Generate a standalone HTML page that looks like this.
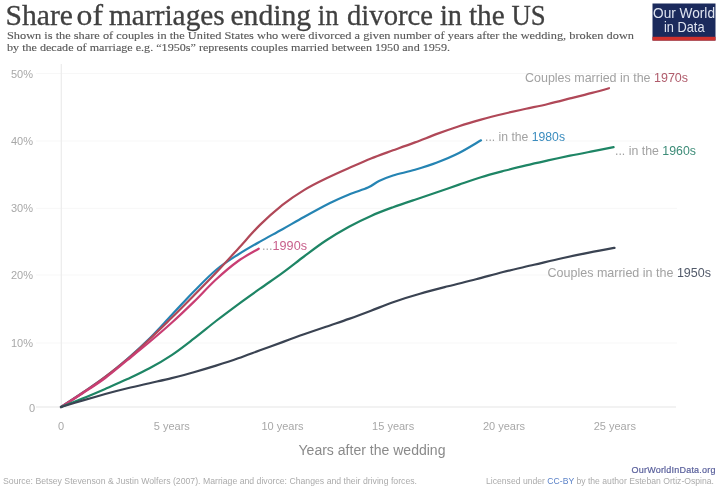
<!DOCTYPE html>
<html><head><meta charset="utf-8">
<style>
html,body{margin:0;padding:0;background:#fff;}
body{width:720px;height:491px;overflow:hidden;position:relative;}
svg{position:absolute;left:0;top:0;filter:blur(0.3px);}
.ax{font-family:"Liberation Sans",sans-serif;font-size:11px;fill:#a8a8a8;}
.serif{font-family:"Liberation Serif",serif;}
.sans{font-family:"Liberation Sans",sans-serif;}
</style></head><body>
<svg width="720" height="491" viewBox="0 0 720 491">
<rect width="720" height="491" fill="#ffffff"/>
<text x="5.6" y="25" class="serif" font-size="28.5" fill="#404040" stroke="#404040" stroke-width="0.3" textLength="67.4" lengthAdjust="spacingAndGlyphs">Share</text>
<text x="76.6" y="25" class="serif" font-size="28.5" fill="#404040" stroke="#404040" stroke-width="0.3" textLength="26.4" lengthAdjust="spacingAndGlyphs">of</text>
<text x="109.0" y="25" class="serif" font-size="28.5" fill="#404040" stroke="#404040" stroke-width="0.3" textLength="115.8" lengthAdjust="spacingAndGlyphs">marriages</text>
<text x="230.4" y="25" class="serif" font-size="28.5" fill="#404040" stroke="#404040" stroke-width="0.3" textLength="80.8" lengthAdjust="spacingAndGlyphs">ending</text>
<text x="317.8" y="25" class="serif" font-size="28.5" fill="#404040" stroke="#404040" stroke-width="0.3" textLength="20.8" lengthAdjust="spacingAndGlyphs">in</text>
<text x="347.0" y="25" class="serif" font-size="28.5" fill="#404040" stroke="#404040" stroke-width="0.3" textLength="86.0" lengthAdjust="spacingAndGlyphs">divorce</text>
<text x="440.0" y="25" class="serif" font-size="28.5" fill="#404040" stroke="#404040" stroke-width="0.3" textLength="22.0" lengthAdjust="spacingAndGlyphs">in</text>
<text x="468.9" y="25" class="serif" font-size="28.5" fill="#404040" stroke="#404040" stroke-width="0.3" textLength="35.8" lengthAdjust="spacingAndGlyphs">the</text>
<text x="511.4" y="25" class="serif" font-size="28.5" fill="#404040" stroke="#404040" stroke-width="0.3" textLength="34.2" lengthAdjust="spacingAndGlyphs">US</text>

<text x="7" y="38.5" class="serif" font-size="11" fill="#585858" stroke="#585858" stroke-width="0.12" textLength="627" lengthAdjust="spacingAndGlyphs">Shown is the share of couples in the United States who were divorced a given number of years after the wedding, broken down</text>
<text x="7" y="51.4" class="serif" font-size="11" fill="#585858" stroke="#585858" stroke-width="0.12" textLength="443" lengthAdjust="spacingAndGlyphs">by the decade of marriage e.g. “1950s” represents couples married between 1950 and 1959.</text>
<rect x="652.5" y="3.5" width="63" height="37" fill="#1b2a5c"/>
<rect x="652.5" y="36.8" width="63" height="3.8" fill="#d0312d"/>
<text x="653" y="18" class="sans" font-size="14.5" fill="#dfe4f0" textLength="62" lengthAdjust="spacingAndGlyphs">Our World</text>
<text x="664" y="31.8" class="sans" font-size="14.5" fill="#dfe4f0" textLength="40.5" lengthAdjust="spacingAndGlyphs">in Data</text>
<line x1="36" y1="343.0" x2="677" y2="343.0" stroke="#f7f7f7" stroke-width="1"/>
<line x1="36" y1="275.0" x2="677" y2="275.0" stroke="#f7f7f7" stroke-width="1"/>
<line x1="36" y1="208.3" x2="677" y2="208.3" stroke="#f7f7f7" stroke-width="1"/>
<line x1="36" y1="141.0" x2="677" y2="141.0" stroke="#f7f7f7" stroke-width="1"/>
<line x1="36" y1="73.5" x2="677" y2="73.5" stroke="#f7f7f7" stroke-width="1"/>

<line x1="36" y1="407" x2="676" y2="407" stroke="#e6e6e6" stroke-width="1.2"/>
<line x1="61.3" y1="64" x2="61.3" y2="407" stroke="#ebebeb" stroke-width="1.2"/>
<text x="35" y="411.5" text-anchor="end" class="ax">0</text>
<text x="33" y="347.0" text-anchor="end" class="ax">10%</text>
<text x="33" y="279.0" text-anchor="end" class="ax">20%</text>
<text x="33" y="212.3" text-anchor="end" class="ax">30%</text>
<text x="33" y="145.0" text-anchor="end" class="ax">40%</text>
<text x="33" y="77.5" text-anchor="end" class="ax">50%</text>

<text x="61.0" y="430" text-anchor="middle" class="ax">0</text>
<text x="171.8" y="430" text-anchor="middle" class="ax">5 years</text>
<text x="282.5" y="430" text-anchor="middle" class="ax">10 years</text>
<text x="393.2" y="430" text-anchor="middle" class="ax">15 years</text>
<text x="504.0" y="430" text-anchor="middle" class="ax">20 years</text>
<text x="614.8" y="430" text-anchor="middle" class="ax">25 years</text>

<g fill="none" stroke-width="2.2" stroke-linecap="round" stroke-linejoin="round">
<path d="M61.0,407.0 C64.7,404.6 75.6,397.5 83.0,392.5 C90.4,387.5 97.8,382.6 105.2,377.0 C112.6,371.4 120.1,365.2 127.5,358.8 C134.9,352.4 142.1,345.8 149.5,338.5 C156.9,331.2 164.3,322.8 171.7,315.0 C179.1,307.2 186.4,299.0 193.8,291.5 C201.2,284.0 208.6,276.2 216.0,270.0 C223.4,263.8 230.9,259.2 238.2,254.5 C245.5,249.8 252.6,245.8 260.0,241.6 C267.4,237.4 275.2,233.3 282.5,229.2 C289.8,225.1 296.1,221.4 304.0,217.0 C311.9,212.6 322.5,206.8 330.0,203.0 C337.5,199.2 342.7,197.1 349.0,194.5 C355.3,191.9 363.0,189.8 368.0,187.6 C373.0,185.3 374.8,183.0 379.0,181.0 C383.2,179.0 387.0,177.4 393.0,175.5 C399.0,173.6 407.7,172.0 415.0,169.8 C422.3,167.6 429.7,165.3 437.0,162.5 C444.3,159.7 451.7,156.7 459.0,153.0 C466.3,149.3 477.3,142.4 481.0,140.3" stroke="#2584b3"/>
<path d="M61.0,407.0 C64.7,404.6 75.6,397.6 83.0,392.5 C90.4,387.5 97.8,382.4 105.2,376.8 C112.6,371.2 120.1,365.3 127.5,359.0 C134.9,352.8 142.1,346.1 149.5,339.2 C156.9,332.3 164.3,325.0 171.7,317.8 C179.1,310.5 186.4,303.1 193.8,295.6 C201.2,288.1 208.6,280.6 216.0,272.8 C223.4,265.0 230.9,256.7 238.2,248.7 C245.5,240.7 252.6,232.2 260.0,224.9 C267.4,217.6 275.2,210.8 282.5,204.9 C289.8,199.1 296.8,194.5 304.0,190.1 C311.2,185.7 318.5,182.1 326.0,178.5 C333.5,174.8 341.5,171.3 349.0,168.0 C356.5,164.7 363.7,161.4 371.0,158.5 C378.3,155.6 385.7,153.0 393.0,150.3 C400.3,147.7 407.7,145.1 415.0,142.4 C422.3,139.7 429.7,136.6 437.0,133.9 C444.3,131.2 451.7,128.6 459.0,126.2 C466.3,123.8 473.5,121.7 481.0,119.6 C488.5,117.5 496.5,115.5 504.0,113.7 C511.5,111.9 518.7,110.4 526.0,108.8 C533.3,107.2 540.7,105.8 548.0,104.0 C555.3,102.3 562.7,100.3 570.0,98.4 C577.3,96.6 585.5,94.6 592.0,92.9 C598.5,91.2 606.2,89.0 609.0,88.2" stroke="#b04858"/>
<path d="M61.0,407.0 C64.7,404.7 75.6,397.8 83.0,393.0 C90.4,388.2 97.8,383.5 105.2,378.0 C112.6,372.5 120.1,366.0 127.5,360.0 C134.9,354.0 142.1,348.2 149.5,342.0 C156.9,335.8 164.3,329.5 171.7,322.8 C179.1,316.1 186.4,309.1 193.8,301.9 C201.2,294.7 208.6,286.3 216.0,279.5 C223.4,272.7 231.1,266.1 238.2,261.0 C245.3,255.9 255.3,250.8 258.7,248.7" stroke="#c93d73"/>
<path d="M61.0,407.0 C64.7,405.5 75.6,401.3 83.0,398.3 C90.4,395.3 97.8,392.1 105.2,388.9 C112.6,385.7 120.1,382.5 127.5,379.1 C134.9,375.6 142.1,372.3 149.5,368.3 C156.9,364.4 164.3,360.0 171.7,355.1 C179.1,350.2 186.4,344.4 193.8,338.7 C201.2,333.0 208.6,326.8 216.0,321.0 C223.4,315.3 230.9,309.7 238.2,304.3 C245.5,298.9 252.6,293.9 260.0,288.7 C267.4,283.4 275.2,278.3 282.5,272.9 C289.8,267.6 296.8,261.9 304.0,256.5 C311.2,251.1 318.5,245.4 326.0,240.5 C333.5,235.5 341.5,230.8 349.0,226.7 C356.5,222.6 363.7,219.1 371.0,215.9 C378.3,212.6 385.7,209.9 393.0,207.2 C400.3,204.5 407.7,202.1 415.0,199.7 C422.3,197.2 429.7,194.8 437.0,192.3 C444.3,189.8 451.7,187.1 459.0,184.6 C466.3,182.1 473.5,179.5 481.0,177.2 C488.5,174.9 496.5,172.8 504.0,170.8 C511.5,168.9 518.7,167.1 526.0,165.4 C533.3,163.6 540.7,162.0 548.0,160.4 C555.3,158.8 562.7,157.2 570.0,155.7 C577.3,154.2 584.7,152.8 592.0,151.4 C599.3,150.0 610.0,147.9 613.6,147.2" stroke="#1e8565"/>
<path d="M61.0,407.0 C64.7,405.9 75.6,402.6 83.0,400.4 C90.4,398.3 97.8,396.1 105.2,394.0 C112.6,392.0 120.1,390.1 127.5,388.3 C134.9,386.5 142.1,384.9 149.5,383.2 C156.9,381.5 164.3,379.9 171.7,378.1 C179.1,376.2 186.4,374.3 193.8,372.2 C201.2,370.1 208.6,367.9 216.0,365.6 C223.4,363.3 230.9,360.9 238.2,358.3 C245.5,355.8 252.6,353.0 260.0,350.3 C267.4,347.6 275.2,344.7 282.5,342.1 C289.8,339.4 296.8,336.8 304.0,334.3 C311.2,331.7 318.5,329.2 326.0,326.7 C333.5,324.1 341.5,321.6 349.0,318.9 C356.5,316.3 363.7,313.6 371.0,310.8 C378.3,308.0 384.8,305.0 393.0,302.2 C401.2,299.4 410.8,296.4 420.0,293.8 C429.2,291.1 438.7,288.7 448.0,286.3 C457.3,283.9 466.8,281.7 476.0,279.3 C485.2,276.9 493.3,274.5 503.0,272.0 C512.7,269.6 524.2,267.1 534.0,264.8 C543.8,262.5 552.8,260.2 562.0,258.2 C571.2,256.2 580.2,254.4 589.0,252.7 C597.8,250.9 610.2,248.6 614.5,247.8" stroke="#3a4352"/>
</g>
<text x="525" y="82.3" class="sans" font-size="13" fill="#a2a2a2" textLength="163" lengthAdjust="spacingAndGlyphs">Couples married in the <tspan fill="#b05c6c">1970s</tspan></text>
<text x="485" y="141" class="sans" font-size="13" fill="#a2a2a2" textLength="80" lengthAdjust="spacingAndGlyphs">... in the <tspan fill="#3a8cbe">1980s</tspan></text>
<text x="615" y="154.8" class="sans" font-size="13" fill="#a2a2a2" textLength="81" lengthAdjust="spacingAndGlyphs">... in the <tspan fill="#3d8c78">1960s</tspan></text>
<text x="547.5" y="277" class="sans" font-size="13" fill="#a2a2a2" textLength="163.5" lengthAdjust="spacingAndGlyphs">Couples married in the <tspan fill="#525a6a">1950s</tspan></text>
<text x="262" y="249.8" class="sans" font-size="13" fill="#c8608c" textLength="45" lengthAdjust="spacingAndGlyphs"><tspan fill="#a8a8a8">...</tspan>1990s</text>
<text x="372" y="454.5" text-anchor="middle" class="sans" font-size="14" fill="#8a8a8a" textLength="147" lengthAdjust="spacingAndGlyphs">Years after the wedding</text>
<text x="3" y="484.4" class="sans" font-size="9.5" fill="#ababab" textLength="414" lengthAdjust="spacingAndGlyphs">Source: Betsey Stevenson &amp; Justin Wolfers (2007). Marriage and divorce: Changes and their driving forces.</text>
<text x="631.5" y="472.6" class="sans" font-size="9" fill="#5a609c" stroke="#5a609c" stroke-width="0.2" textLength="84">OurWorldInData.org</text>
<text x="714" y="484" text-anchor="end" class="sans" font-size="9.3" fill="#ababab" textLength="228" lengthAdjust="spacingAndGlyphs">Licensed under <tspan fill="#5b82c8">CC-BY</tspan> by the author Esteban Ortiz-Ospina.</text>
</svg>
</body></html>
